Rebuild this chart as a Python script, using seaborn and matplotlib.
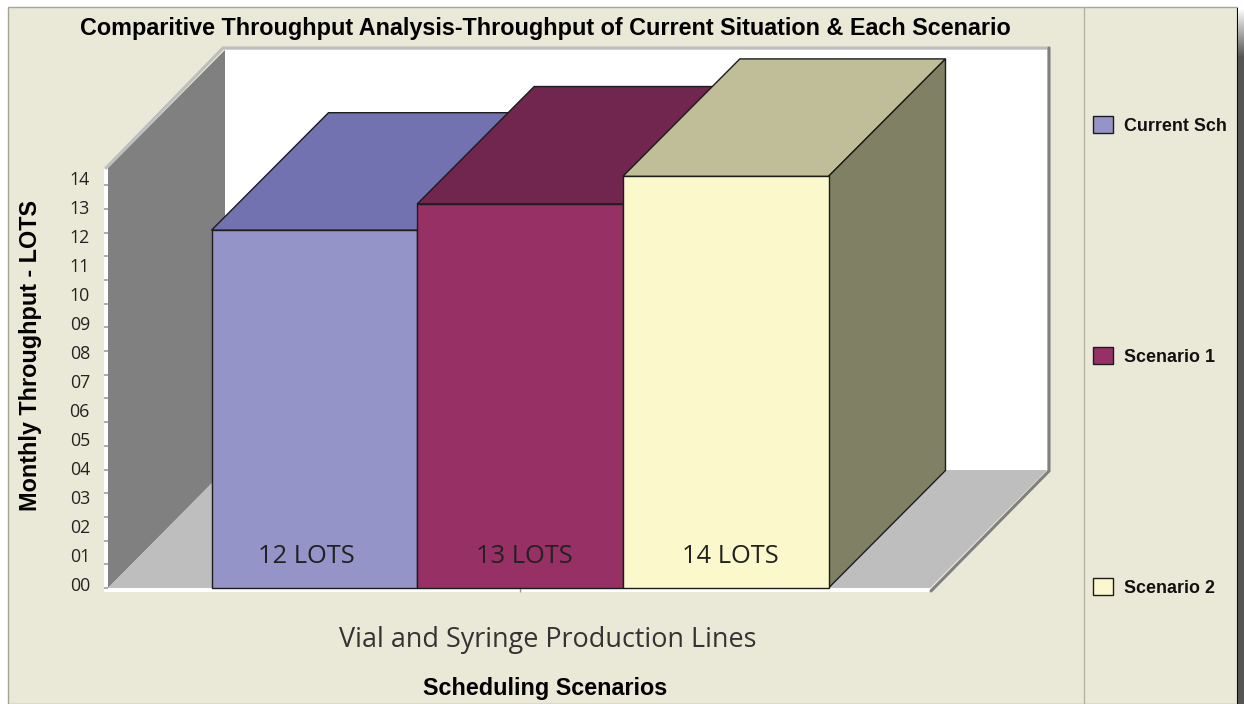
import numpy as np
import pandas as pd
import matplotlib
matplotlib.use("Agg")
import matplotlib.pyplot as plt
import seaborn as sns
from matplotlib.patches import Polygon, Rectangle
from matplotlib.ticker import MultipleLocator
from matplotlib.transforms import ScaledTranslation

# --- data ---
LINE = "Vial and Syringe Production Lines"
SCENARIOS = ["Current Sch", "Scenario 1", "Scenario 2"]
LOTS = [12.17, 13.06, 14.0]
BAR_LABELS = ["12 LOTS", "13 LOTS", "14 LOTS"]
Y_TICKS = list(range(15))

FRONT = ["#9494C8", "#973064", "#FBF8CC"]
TOP = ["#7272B0", "#70264E", "#BFBE98"]
SIDE = ["#5C5C8C", "#5A1E3E", "#7F8064"]
PANEL = "#EAE9D8"

W, H = 1244, 704
sns.set_theme(style="white")
plt.rcParams["font.family"] = ["Liberation Sans", "DejaVu Sans"]

fig = plt.figure(figsize=(W / 100, H / 100), dpi=100, facecolor="white")


def px_axes(left, right, top, bottom):
    return [left / W, 1 - bottom / H, (right - left) / W, (bottom - top) / H]


# background in pixel coordinates: panel, walls and floor of the fake 3D box
bg = fig.add_axes([0, 0, 1, 1], zorder=0)
bg.set_xlim(0, W)
bg.set_ylim(H, 0)
bg.axis("off")
bg.add_patch(Rectangle((8, 7), 1229, 697, fc=PANEL, ec="#A5A593", lw=1))
bg.plot([1084, 1084], [7, H], color="#B4B4A4", lw=1)
# drop shadow down the right edge, fades to white at the top
shadow = np.linspace(1, 0.33, 50)[:, None]
bg.imshow(shadow, extent=(1238, 1244, 58, 8), cmap="gray", vmin=0, vmax=1, aspect="auto", zorder=5)
bg.add_patch(Rectangle((1238, 58), 6, H - 58, fc="#555555", ec="none", zorder=5))
bg.add_patch(Rectangle((1236.5, 8), 1.8, H - 8, fc="#0c0c0c", ec="none", zorder=6))
bg.set_xlim(0, W)
bg.set_ylim(H, 0)

bg.add_patch(Rectangle((104, 168), 4, 424, fc="white", ec="none"))
bg.add_patch(Rectangle((104, 588), 826, 4, fc="white", ec="none"))
bg.add_patch(Rectangle((225, 50), 822, 420, fc="white", ec="none"))
bg.add_patch(Polygon([(108, 168), (225, 50), (225, 470), (108, 588)], fc="#808080", ec="none"))
bg.add_patch(Polygon([(108, 588), (225, 470), (1047, 470), (930, 588)], fc="#BEBEBE", ec="none"))
bg.plot([106, 223, 1049], [168, 48, 48], color="#BEBEBE", lw=2.2, solid_joinstyle="miter")
bg.plot([1049, 1049, 931], [48, 471, 591], color="#808080", lw=2.2, solid_joinstyle="miter")

# secondary axis for the pasted-on 00..14 labels, their spacing differs from the bars
lab = fig.add_axes(px_axes(108, 930, 168, 588), zorder=1, frameon=False)
lab.set_ylim((584 - 588) / 29, (584 - 168) / 29)
lab.set_xticks([])
lab.set_yticks(Y_TICKS)
lab.set_yticklabels([f"{v:02d}" for v in Y_TICKS], family="Open Sans", fontsize=12.8, color="#222222")
lab.tick_params(axis="y", length=0, pad=13)

# main chart
ax = fig.add_axes(px_axes(108, 930, 168, 588), zorder=2)
ax.patch.set_visible(False)
df = pd.DataFrame({"line": [LINE] * 3, "scenario": SCENARIOS, "lots": LOTS})
sns.barplot(data=df, x="line", y="lots", hue="scenario", palette=FRONT, saturation=1,
            width=1, gap=0, edgecolor="#1c1c1c", linewidth=1, ax=ax)

px_x = 617.0
px_y = 29.4
ax.set_xlim((108 - 520) / px_x, (930 - 520) / px_x)
ax.set_ylim(0, 420 / px_y)
depth_x, depth_y = 117 / px_x, 117.5 / px_y

for i, cont in enumerate(ax.containers):
    for bar in cont:
        x0, x1, h = bar.get_x(), bar.get_x() + bar.get_width(), bar.get_height()
        bar.set_zorder(2 * i + 4)
        ax.add_patch(Polygon([(x0, h), (x0 + depth_x, h + depth_y), (x1 + depth_x, h + depth_y), (x1, h)],
                             fc=TOP[i], ec="#1c1c1c", lw=1, clip_on=False, zorder=2 * i + 3))
        ax.add_patch(Polygon([(x1, 0), (x1 + depth_x, depth_y), (x1 + depth_x, h + depth_y), (x1, h)],
                             fc=SIDE[i], ec="#1c1c1c", lw=1, clip_on=False, zorder=2 * i + 3))
        bar.set_clip_on(False)
        shift = (306, 524, 730)[i] - (x0 + x1) / 2 * px_x - 520
        ax.annotate(BAR_LABELS[i], ((x0 + x1) / 2, 0), xytext=(shift * 0.72, 22.7), textcoords="offset points",
                    ha="center", va="center", family="Open Sans", fontsize=18.4, color="#222222",
                    zorder=20)

for s in ax.spines.values():
    s.set_visible(False)
ax.yaxis.set_major_locator(MultipleLocator(0.806))
ax.set_yticklabels([])
ax.tick_params(axis="y", left=True, length=3, width=1.2, color="#A0A08C")
ax.tick_params(axis="x", bottom=True, length=3, width=1, color="#9A9A9A", pad=24)

ax.set_xticks([0])
ax.set_xticklabels([LINE], family="Open Sans", fontsize=19.45, color="#333333")
for t in ax.get_xticklabels():
    t.set_transform(t.get_transform() + ScaledTranslation(28 / 100, 0, fig.dpi_scale_trans))

ax.set_xlabel("Scheduling Scenarios", fontsize=16.8, fontweight="bold", color="black")
ax.xaxis.set_label_coords((545 - 108) / 822, -(688 - 588) / 420, transform=ax.transAxes)
ax.xaxis.label.set_va("center")
ax.set_ylabel("Monthly Throughput - LOTS", fontsize=16.8, fontweight="bold", color="black")
ax.yaxis.set_label_coords((30 - 108) / 822, (588 - 356) / 420, transform=ax.transAxes)
ax.yaxis.label.set_va("center")
fig.text(545 / W, 1 - 29 / H, "Comparitive Throughput Analysis-Throughput of Current Situation & Each Scenario",
         ha="center", va="center", fontsize=16.8, fontweight="bold", color="black")

leg_fs = 12.9
ax.legend(loc="upper left", bbox_to_anchor=(1093 / W, 1 - 116 / H), bbox_transform=fig.transFigure,
          frameon=False, fontsize=leg_fs, borderpad=0, borderaxespad=0, handlelength=14.4 / leg_fs,
          handleheight=14.4 / leg_fs, handletextpad=0.62, labelspacing=(167.1 - 14.4) / leg_fs,
          labelcolor="#111111", prop={"weight": "bold", "size": leg_fs})

fig.savefig("out.png", dpi=100)
